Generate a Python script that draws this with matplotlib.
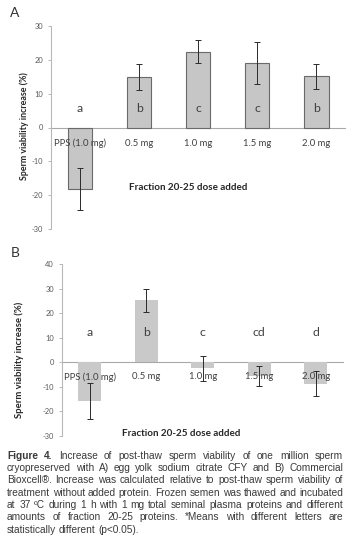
import matplotlib
matplotlib.use('Agg')
import matplotlib.pyplot as plt
import numpy as np

categories = ['PPS (1.0 mg)', '0.5 mg', '1.0 mg', '1.5 mg', '2.0 mg']
a_values = [-18.3, 15.0, 22.4, 19.0, 15.1]
a_errors = [6.2, 3.8, 3.4, 6.2, 3.6]
a_letters = ['a', 'b', 'c', 'c', 'b']
b_values = [-15.8, 25.3, -2.4, -5.6, -8.6]
b_errors = [7.3, 4.7, 5.0, 4.2, 5.1]
b_letters = ['a', 'b', 'c', 'cd', 'd']
a_yticks = [-30, -20, -10, 0, 10, 20, 30]
b_yticks = [-30, -20, -10, 0, 10, 20, 30, 40]
ylabel = 'Sperm viability increase (%)'
xlabel = 'Fraction 20-25 dose added'

caption_lines = [
    [('Figure', 'bold'), ('4.', 'bold'), ('Increase', 'normal'), ('of', 'normal'), ('post-thaw', 'normal'),
     ('sperm', 'normal'), ('viability', 'normal'), ('of', 'normal'), ('one', 'normal'), ('million', 'normal'),
     ('sperm', 'normal')],
    'cryopreserved with A) egg yolk sodium citrate CFY and B) Commercial',
    'Bioxcell\u00ae. Increase was calculated relative to post-thaw sperm viability of',
    'treatment without added protein. Frozen semen was thawed and incubated',
    'at 37 \u00baC during 1 h with 1 mg total seminal plasma proteins and different',
    'amounts of fraction 20-25 proteins. *Means with different letters are',
    'statistically different (p<0.05).',
]

W, H = 350, 538
fig = plt.figure(figsize=(W / 100, H / 100), dpi=100)
CF = ['Lato', 'DejaVu Sans']


def px_axes(l, r, t, b):
    return fig.add_axes([l / W, 1 - b / H, (r - l) / W, (b - t) / H])


def panel(ax, values, errors, letters, yticks, ylim, edge, letter_y, cat_y):
    x = np.arange(len(categories))
    if edge:
        ax.bar(x, values, width=0.41, color='#c6c6c6', edgecolor='#6a6a6a', linewidth=0.8, zorder=2)
    else:
        ax.bar(x, values, width=0.41, color='#c9c9c9', linewidth=0, zorder=2)
    ax.axhline(0, color='#a8a8a8', lw=0.8, zorder=1)
    for i, (c, lt) in enumerate(zip(categories, letters)):
        ax.text(i, cat_y, c, ha='center', va='center', fontsize=6.8, color='#404040', family=CF, zorder=3)
        ax.text(i, letter_y, lt, ha='center', va='center', fontsize=8.8, color='#404040', family=CF, zorder=3)
    ax.errorbar(x, values, yerr=errors, fmt='none', ecolor='#2a2a2a', elinewidth=0.7,
                capsize=2, capthick=0.7, zorder=4)
    ax.set_xlim(-0.5, len(categories) - 0.5)
    ax.set_ylim(*ylim)
    ax.set_xticks([])
    ax.set_yticks(yticks)
    ax.set_yticklabels([str(v) for v in yticks], family=CF)
    for s in ['top', 'right', 'bottom']:
        ax.spines[s].set_visible(False)
    ax.spines['left'].set_color('#b8b8b8')
    ax.spines['left'].set_linewidth(0.8)
    ax.tick_params(axis='y', length=2.5, width=0.7, color='#b8b8b8', labelsize=5.4,
                   labelcolor='#595959', pad=3)
    ax.patch.set_alpha(0)


axA = px_axes(50.5, 346, 26, 229)
panel(axA, a_values, a_errors, a_letters, a_yticks, (-30, 30), True, 5.7, -4.6)
axB = px_axes(61.5, 344, 264.3, 436)
panel(axB, b_values, b_errors, b_letters, b_yticks, (-30, 40), False, 12.1, -5.9)

fig.text(15 / W, 1 - 13 / H, 'A', fontsize=10, family=CF, color='#333333', ha='center', va='center')
fig.text(15 / W, 1 - 253 / H, 'B', fontsize=10, family=CF, color='#333333', ha='center', va='center')
fig.text(24 / W, 1 - 126 / H, ylabel, rotation=90, fontsize=6.4, fontweight='bold', family=CF,
         color='#262626', ha='center', va='center')
fig.text(19 / W, 1 - 360 / H, ylabel, rotation=90, fontsize=6.8, fontweight='bold', family=CF,
         color='#262626', ha='center', va='center')
fig.text(188 / W, 1 - 187.7 / H, xlabel, fontsize=7.1, fontweight='bold', family=CF,
         color='#262626', ha='center', va='center')
fig.text(181 / W, 1 - 433.3 / H, xlabel, fontsize=7.1, fontweight='bold', family=CF,
         color='#262626', ha='center', va='center')

# justified caption
renderer = fig.canvas.get_renderer()
x0, x1 = 7.0, 343.0
y0, dy = 456.0, 12.35
fs = 7.3
for li, line in enumerate(caption_lines):
    if isinstance(line, str):
        words = [(w, 'normal') for w in line.split(' ')]
    else:
        words = line
    yb = 1 - (y0 + li * dy + 2.6) / H
    texts = [fig.text(0, yb, w, fontsize=fs, fontweight=wt, family=['Liberation Sans', 'DejaVu Sans'],
                      color='#3a3a3a', ha='left', va='baseline') for w, wt in words]
    widths = [t.get_window_extent(renderer).width for t in texts]
    last = li == len(caption_lines) - 1
    if last or len(texts) < 2:
        gap = fs * 0.28 * 100 / 72
    else:
        gap = (x1 - x0 - sum(widths)) / (len(texts) - 1)
    x = x0
    for t, w in zip(texts, widths):
        t.set_x(x / W)
        x += w + gap

fig.savefig('out.png', dpi=100)
